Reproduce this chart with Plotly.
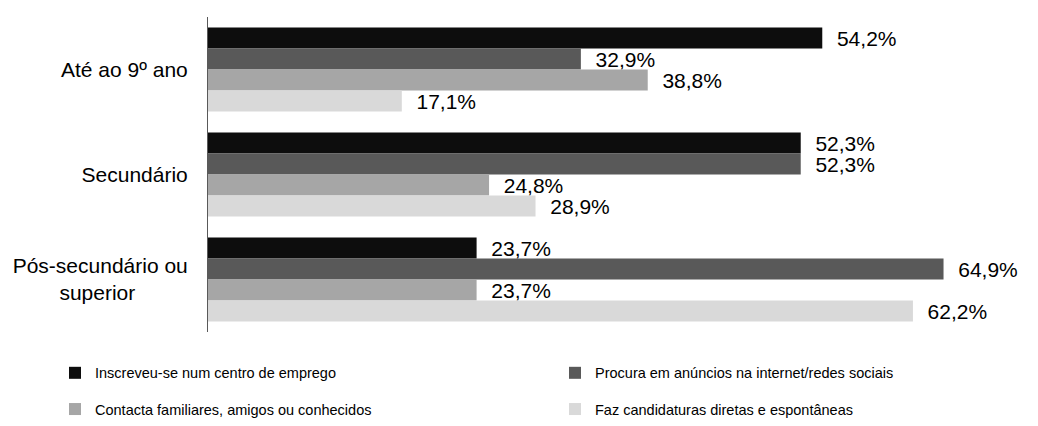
import plotly.graph_objects as go

pad = "\u00a0" * 9
categories = ["Até ao 9º ano", "Secundário",
              "Pós-secundário ou<br>superior" + pad]
series_names = [
    "Inscreveu-se num centro de emprego",
    "Procura em anúncios na internet/redes sociais",
    "Contacta familiares, amigos ou conhecidos",
    "Faz candidaturas diretas e espontâneas",
]
inscreveu = [54.2, 52.3, 23.7]
procura = [32.9, 52.3, 64.9]
contacta = [38.8, 24.8, 23.7]
candidaturas = [17.1, 28.9, 62.2]

colors = ["#0d0d0d", "#595959", "#a6a6a6", "#d9d9d9"]
legends = ["legend", "legend", "legend2", "legend2"]

font = "Liberation Sans, Arial, sans-serif"

fig = go.Figure()
for name, vals, col, lg in zip(series_names,
                               [inscreveu, procura, contacta, candidaturas],
                               colors, legends):
    fig.add_trace(go.Bar(
        y=categories, x=vals, name=name, orientation="h",
        marker=dict(color=col, line=dict(width=0)),
        texttemplate="\u00a0\u00a0%{x:.1f}%", textposition="outside",
        constraintext="none", cliponaxis=False,
        textfont=dict(size=21, color="#000", family=font),
        legend=lg,
    ))

legend_style = dict(
    orientation="h", xanchor="left", yanchor="top",
    entrywidth=455, entrywidthmode="pixels",
    font=dict(size=14.5, color="#000", family=font),
    bgcolor="rgba(0,0,0,0)", itemwidth=30,
)

# page body has an 8px margin, so the figure is a bit smaller than the window
fig.update_layout(
    width=1030, height=418,
    margin=dict(l=200, r=14, t=9, b=94, autoexpand=False),
    plot_bgcolor="white", paper_bgcolor="white",
    barmode="group", bargap=0.2, bargroupgap=0,
    separators=", ",
    font=dict(family=font, size=21, color="#000"),
    xaxis=dict(range=[0, 72], visible=False),
    yaxis=dict(autorange="reversed", showline=True, linecolor="#595959",
               linewidth=1, ticks="", showgrid=False,
               tickfont=dict(size=21, color="#000"), ticklabelstandoff=15),
    legend=dict(legend_style, x=-0.1875, y=-0.079),
    legend2=dict(legend_style, x=-0.1875, y=-0.194),
)

fig.write_html("out.html")
